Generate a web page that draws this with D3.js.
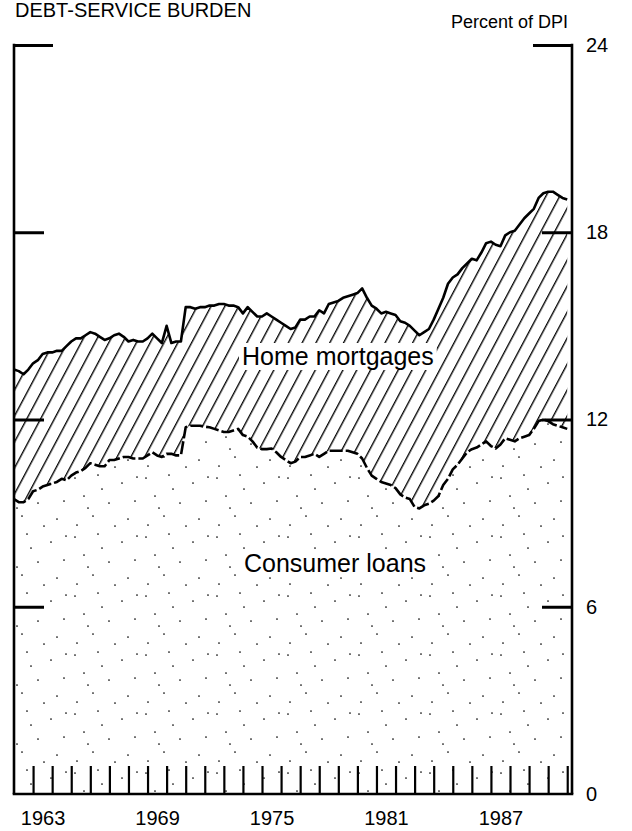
<!DOCTYPE html>
<html><head><meta charset="utf-8">
<script src="https://cdn.jsdelivr.net/npm/d3@7"></script>
<style>
body{margin:0;background:#fff}
text{font-family:"Liberation Sans",Arial,Helvetica,sans-serif;fill:#000}
</style>
</head><body>
<svg id="c" width="632" height="831"></svg>
<script>
// ---- data (quarterly, 1962Q1 .. 1991Q1), percent of DPI ----
const quarters = d3.range(0, 117).map(i => 1962 + i / 4);
const totalBurden = [
  13.6,13.55,13.45,13.6, 13.8,13.9,14.1,14.15, 14.15,14.2,14.2,14.35, 14.5,14.6,14.6,14.7,
  14.8,14.75,14.65,14.55, 14.6,14.7,14.75,14.65, 14.5,14.55,14.5,14.5, 14.6,14.75,14.6,14.45,
  15.0,14.45,14.5,14.5, 15.6,15.6,15.55,15.6, 15.6,15.65,15.65,15.7, 15.7,15.65,15.65,15.6,
  15.4,15.6,15.45,15.3, 15.3,15.4,15.3,15.2, 15.1,15.0,14.9,14.95, 15.2,15.2,15.3,15.3,
  15.5,15.4,15.7,15.75, 15.8,15.9,15.95,16.0, 16.05,16.2,15.9,15.65, 15.55,15.4,15.45,15.4,
  15.35,15.15,15.1,15.0, 14.85,14.7,14.8,14.9, 15.2,15.55,15.9,16.35, 16.55,16.65,16.85,17.0,
  17.15,17.1,17.35,17.65, 17.7,17.6,17.55,17.9, 18.0,18.05,18.25,18.45, 18.6,18.75,19.1,19.25,
  19.3,19.3,19.2,19.1, 19.05
];
const consumerLoans = [
  9.45,9.35,9.35,9.45, 9.7,9.75,9.85,9.9, 9.95,10.0,10.1,10.05, 10.2,10.3,10.35,10.45,
  10.6,10.55,10.5,10.5, 10.7,10.7,10.75,10.8, 10.8,10.75,10.75,10.75, 10.85,10.95,10.85,10.8,
  10.9,10.9,10.85,10.85, 11.75,11.8,11.8,11.8, 11.77,11.75,11.7,11.65, 11.6,11.6,11.65,11.7,
  11.5,11.45,11.3,11.1, 11.05,11.05,11.07,10.95, 10.8,10.7,10.6,10.65, 10.8,10.8,10.85,10.9,
  10.8,10.9,11.0,11.0, 11.0,11.0,11.0,10.95, 10.9,10.75,10.45,10.2, 10.1,10.0,9.95,9.9,
  9.8,9.6,9.5,9.45, 9.2,9.15,9.25,9.3, 9.4,9.55,9.9,10.1, 10.4,10.55,10.75,10.95,
  11.05,11.1,11.2,11.3, 11.15,11.07,11.2,11.4, 11.35,11.3,11.4,11.45, 11.5,11.7,11.95,12.0,
  11.95,11.85,11.8,11.75, 11.7
];
const yTickValues = [0, 6, 12, 18, 24];
const yearTicks = d3.range(1963, 1992);
const yearLabels = [1963, 1969, 1975, 1981, 1987];
const titleText = "DEBT-SERVICE BURDEN";
const unitText = "Percent of DPI";
const seriesNames = ["Home mortgages", "Consumer loans"];

const data = quarters.map((t, i) => ({t, tot: totalBurden[i], c: consumerLoans[i]}));

const svg = d3.select("#c");
const x = d3.scaleLinear().domain([1962, 1991.25]).range([14, 572]);
const y = d3.scaleLinear().domain([0, 24]).range([794, 45]);

// patterns
const defs = svg.append("defs");
const hatch = defs.append("pattern").attr("id", "hatch")
  .attr("patternUnits", "userSpaceOnUse").attr("width", 12.2).attr("height", 12.2)
  .attr("patternTransform", "rotate(28)");
hatch.append("line").attr("x1", 0.7).attr("y1", -1).attr("x2", 0.7).attr("y2", 13.2)
  .attr("stroke", "#000").attr("stroke-width", 1.35);

const stip = defs.append("pattern").attr("id", "stip")
  .attr("patternUnits", "userSpaceOnUse").attr("width", 71).attr("height", 59);
[[4,6],[27,3],[51,11],[64,29],[13,24],[38,31],[57,47],[22,44],[6,53],[44,54],[31,17],[66,5],[17,36]].forEach(p =>
  stip.append("circle").attr("cx", p[0]).attr("cy", p[1]).attr("r", 0.85).attr("fill", "#000"));

// areas
svg.append("path").datum(data)
  .attr("d", d3.area().x(d => x(d.t)).y0(y(0)).y1(d => y(d.c)))
  .attr("fill", "url(#stip)");
svg.append("path").datum(data)
  .attr("d", d3.area().x(d => x(d.t)).y0(d => y(d.c)).y1(d => y(d.tot)))
  .attr("fill", "url(#hatch)");

// labels with white boxes
function boxedLabel(txt, xx, yy) {
  const g = svg.append("g");
  const t = g.append("text").attr("x", xx).attr("y", yy)
    .attr("font-size", 25).text(txt);
  const b = t.node().getBBox();
  g.insert("rect", "text").attr("x", b.x - 3).attr("y", b.y + 1)
    .attr("width", b.width + 6).attr("height", b.height - 1).attr("fill", "#fff");
}
boxedLabel(seriesNames[0], 242, 365);
boxedLabel(seriesNames[1], 244, 572);

// lines
svg.append("path").datum(data)
  .attr("d", d3.line().x(d => x(d.t)).y(d => y(d.tot)))
  .attr("fill", "none").attr("stroke", "#000").attr("stroke-width", 2.6)
  .attr("stroke-linejoin", "round");
svg.append("path").datum(data)
  .attr("d", d3.line().x(d => x(d.t)).y(d => y(d.c)))
  .attr("fill", "none").attr("stroke", "#000").attr("stroke-width", 2.6)
  .attr("stroke-dasharray", "13,3").attr("stroke-linejoin", "round");

// frame
const frame = svg.append("g").attr("stroke", "#000").attr("stroke-width", 2.6).attr("fill", "none");
frame.append("line").attr("x1", x(1962)).attr("x2", x(1962)).attr("y1", y(24) - 1.3).attr("y2", y(0));
frame.append("line").attr("x1", x(1991.25)).attr("x2", x(1991.25)).attr("y1", y(24) - 1.3).attr("y2", y(0));
frame.append("line").attr("x1", x(1962) - 1.3).attr("x2", x(1991.25) + 1.3).attr("y1", y(0)).attr("y2", y(0));

// left axis ticks (inward)
const leftAx = svg.append("g").attr("transform", `translate(${x(1962)},0)`)
  .call(d3.axisLeft(y).tickValues([6, 12, 18]).tickSize(-30).tickFormat(""));
const leftTop = svg.append("g").attr("transform", `translate(${x(1962)},0)`)
  .call(d3.axisLeft(y).tickValues([24]).tickSize(-39).tickFormat(""));
// right axis ticks (inward) with labels outside
const rightAx = svg.append("g").attr("transform", `translate(${x(1991.25)},0)`)
  .call(d3.axisRight(y).tickValues([0, 6, 12, 18]).tickSizeInner(-30).tickSizeOuter(0).tickPadding(14));
const rightTop = svg.append("g").attr("transform", `translate(${x(1991.25)},0)`)
  .call(d3.axisRight(y).tickValues([24]).tickSizeInner(-39).tickSizeOuter(0).tickPadding(14));
[leftAx, leftTop, rightAx, rightTop].forEach(g => {
  g.select(".domain").remove();
  g.selectAll(".tick line").attr("stroke", "#000").attr("stroke-width", 3);
  g.selectAll(".tick text").attr("font-size", 20).attr("font-family", "Liberation Sans, Arial, sans-serif").attr("fill", "#000");
});
rightAx.selectAll(".tick").filter(d => d === 0).select("line").remove();

// bottom year ticks (inward)
const botAx = svg.append("g").attr("transform", `translate(0,${y(0)})`)
  .call(d3.axisBottom(x).tickValues(yearTicks).tickSize(-28).tickFormat(""));
botAx.select(".domain").remove();
botAx.selectAll(".tick line").attr("stroke", "#000").attr("stroke-width", 2.2);

// year labels centred in the year
const labAx = svg.append("g").attr("transform", `translate(0,${y(0)})`)
  .call(d3.axisBottom(x).tickValues(yearLabels.map(v => v + 0.5)).tickSize(0).tickPadding(17)
    .tickFormat(d => String(Math.floor(d))));
labAx.select(".domain").remove();
labAx.selectAll(".tick text").attr("font-size", 20).attr("font-family", "Liberation Sans, Arial, sans-serif").attr("fill", "#000");

// titles
svg.append("text").attr("x", 15).attr("y", 17).attr("font-size", 20).text(titleText);
svg.append("text").attr("x", 568).attr("y", 28).attr("text-anchor", "end").attr("font-size", 18).text(unitText);
</script>
</body></html>
